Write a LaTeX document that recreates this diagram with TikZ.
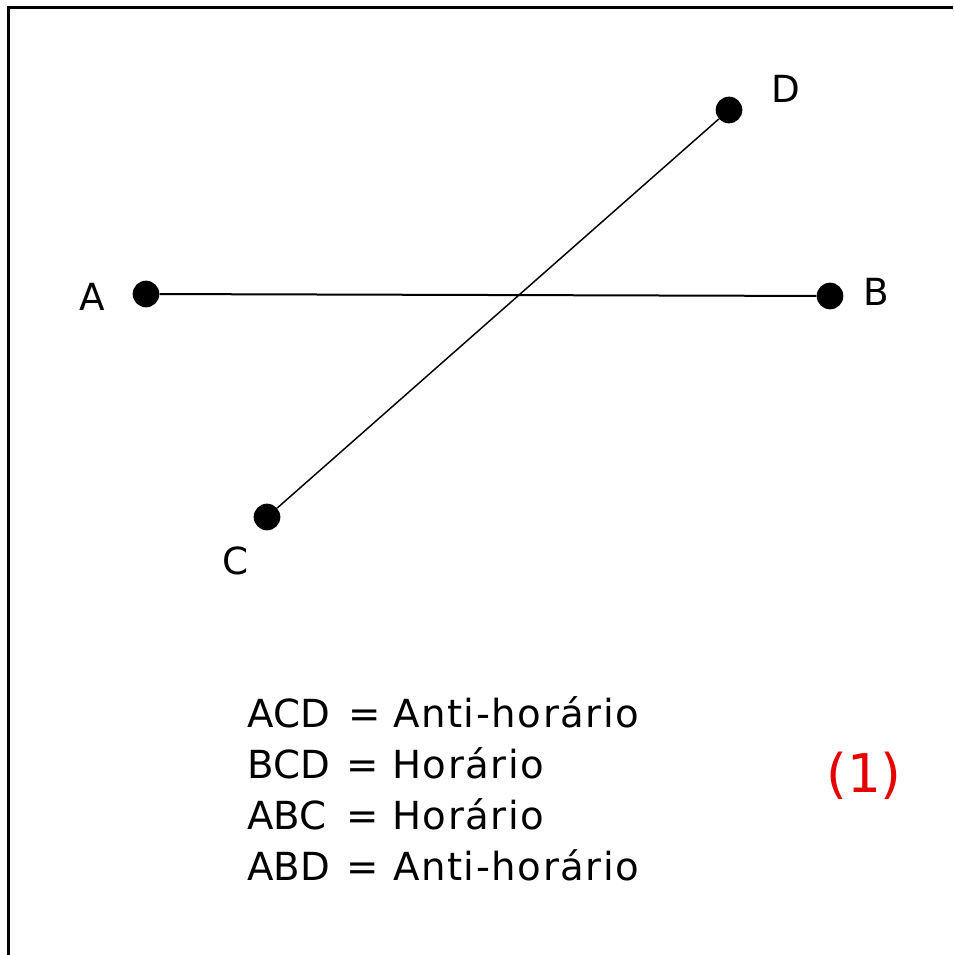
\documentclass[tikz,border=0pt]{standalone}
\usepackage{fontspec}
\setmainfont{DejaVu Sans}
\definecolor{labred}{RGB}{230,0,0}
\begin{document}
\begin{tikzpicture}[x=0.75pt,y=-0.75pt,
  dot/.style={circle,fill=black,inner sep=0pt,minimum size=20pt},
  lbl/.style={font=\fontsize{28}{32}\selectfont,inner sep=0pt},
  nm/.style={font=\fontsize{29}{34}\selectfont,inner sep=0pt,anchor=base west},
  eqs/.style={font=\fontsize{29}{34}\selectfont,inner sep=0pt,anchor=base},
  val/.style={font=\fontsize{29}{34}\selectfont\addfontfeatures{LetterSpace=4},inner sep=0pt,anchor=base west},
  seg/.style={line width=1.5pt},
  frame/.style={line width=2.3pt}]
\useasboundingbox (0,0) rectangle (953,955);
\draw[frame] (8.5,955) -- (8.5,7.5) -- (953,7.5);
\node[dot] (A) at (146,294) {};
\node[dot] (B) at (830,296) {};
\node[dot] (C) at (267,517) {};
\node[dot] (D) at (729,110) {};
\draw[seg] (A) -- (B);
\draw[line width=1.1pt] (C) -- (D);
\node[lbl] (lA) at (92,297) {A};
\node[lbl] (lB) at (876,292) {B};
\node[lbl] (lC) at (236,561) {C};
\node[lbl] (lD) at (786,89) {D};
\node[nm] (n1) at (247,727) {ACD};
\node[nm] (n2) at (247,778) {BCD};
\node[nm] (n3) at (247,829) {ABC};
\node[nm] (n4) at (247,880) {ABD};
\node[eqs] (e1) at (365,727) {=};
\node[eqs] (e2) at (363,778) {=};
\node[eqs] (e3) at (363,829) {=};
\node[eqs] (e4) at (363,880) {=};
\node[val] (v1) at (393,727) {Anti-horário};
\node[val] (v2) at (392,778) {Horário};
\node[val] (v3) at (392,829) {Horário};
\node[val] (v4) at (393,880) {Anti-horário};
\node[font=\fontsize{40}{46}\selectfont,inner sep=0pt,text=labred] (one) at (864,776) {(1)};
\end{tikzpicture}
\end{document}
